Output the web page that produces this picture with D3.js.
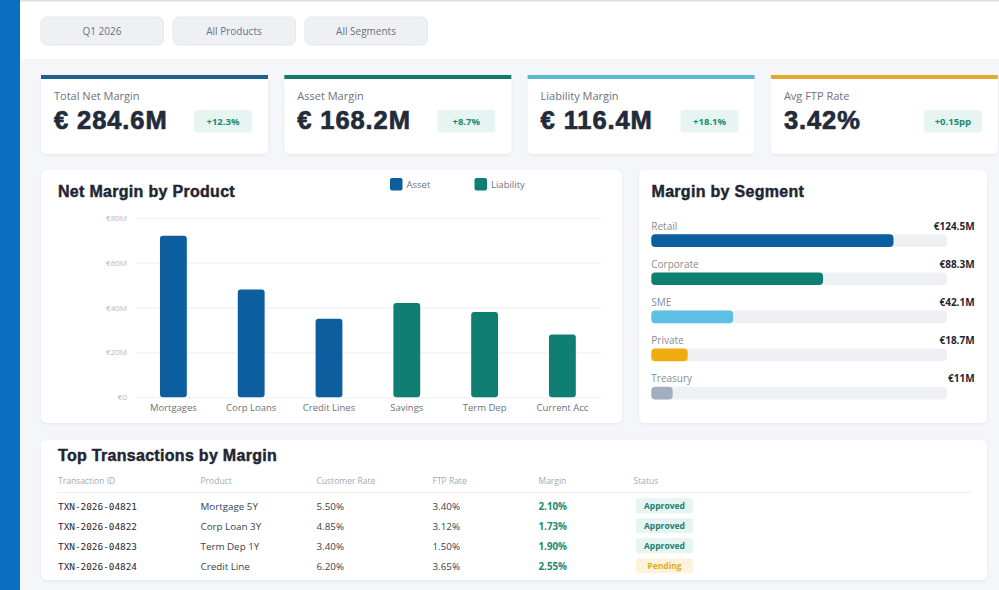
<!DOCTYPE html>
<html>
    <head>
        <meta charset="utf-8">
        <title>FTP Net Margin Dashboard</title>
        <script src="https://cdn.jsdelivr.net/npm/d3@7/dist/d3.min.js"></script>
        <style>
            body { margin: 0; background: #f4f6f9; }
            svg { display: block; }
        </style>
    </head>
    <body>
        <script type="text/javascript">

            // Filters on top
            var filters = ["Q1 2026", "All Products", "All Segments"];

            // KPI cards
            var kpiLabels = ["Total Net Margin", "Asset Margin", "Liability Margin", "Avg FTP Rate"];
            var kpiValues = ["€ 284.6M", "€ 168.2M", "€ 116.4M", "3.42%"];
            var kpiDeltas = ["+12.3%", "+8.7%", "+18.1%", "+0.15pp"];
            var kpiColors = ["#1c5f91", "#16796d", "#5eb9d0", "#e2aa2e"];

            // Net margin by product (EUR millions)
            var products = ["Mortgages", "Corp Loans", "Credit Lines", "Savings", "Term Dep", "Current Acc"];
            var productValues = [72, 48, 35, 42, 38, 28];
            var productTypes = ["Asset", "Asset", "Asset", "Liability", "Liability", "Liability"];
            var yTicks = [0, 20, 40, 60, 80];

            // Margin by segment (EUR millions)
            var segments = ["Retail", "Corporate", "SME", "Private", "Treasury"];
            var segmentValues = [124.5, 88.3, 42.1, 18.7, 11];
            var segmentLabels = ["€124.5M", "€88.3M", "€42.1M", "€18.7M", "€11M"];
            var segmentColors = ["#0c5e9f", "#0e7f72", "#5dbfe4", "#f0ab10", "#a3afc0"];

            // Transactions table
            var columns = ["Transaction ID", "Product", "Customer Rate", "FTP Rate", "Margin", "Status"];
            var txnIds = ["TXN-2026-04821", "TXN-2026-04822", "TXN-2026-04823", "TXN-2026-04824"];
            var txnProducts = ["Mortgage 5Y", "Corp Loan 3Y", "Term Dep 1Y", "Credit Line"];
            var txnCustomerRates = ["5.50%", "4.85%", "3.40%", "6.20%"];
            var txnFtpRates = ["3.40%", "3.12%", "1.50%", "3.65%"];
            var txnMargins = ["2.10%", "1.73%", "1.90%", "2.55%"];
            var txnStatus = ["Approved", "Approved", "Approved", "Pending"];

            var assetColor = "#0c5e9f";
            var liabilityColor = "#0e7f72";
            var font = "'Open Sans', sans-serif";
            var heavy = "'Liberation Sans', Arial, sans-serif";

            var svg = d3.select("body")
                        .append("svg")
                        .attr("width", 999)
                        .attr("height", 590);

            // Soft shadow for the cards
            var shadow = svg.append("defs").append("filter")
                            .attr("id", "shadow")
                            .attr("x", "-5%").attr("y", "-5%")
                            .attr("width", "110%").attr("height", "115%");
            shadow.append("feDropShadow")
                  .attr("dx", 0).attr("dy", 1)
                  .attr("stdDeviation", 1.5)
                  .attr("flood-color", "#000")
                  .attr("flood-opacity", 0.07);

            // Page background, top bar and sidebar
            svg.append("rect").attr("width", 999).attr("height", 590).attr("fill", "#f4f6f9");
            svg.append("rect").attr("width", 999).attr("height", 59).attr("fill", "#ffffff");
            svg.append("rect").attr("width", 999).attr("height", 1.5).attr("fill", "#dcdfe4");
            svg.append("rect").attr("width", 20).attr("height", 590).attr("fill", "#0a6fc1");

            // Filter buttons
            var btn = svg.selectAll(".filter")
                         .data(filters)
                         .enter()
                         .append("g")
                         .attr("class", "filter")
                         .attr("transform", function(d, i) { return "translate(" + (41 + i * 132) + ",17)"; });
            btn.append("rect")
               .attr("width", 122.5).attr("height", 28).attr("rx", 6)
               .attr("fill", "#eef0f4")
               .attr("stroke", "#e4e7ec");
            btn.append("text")
               .attr("x", 61).attr("y", 18)
               .attr("text-anchor", "middle")
               .attr("font-family", font).attr("font-size", 10)
               .attr("fill", "#6b7280")
               .text(function(d) { return d; });

            // KPI cards
            var card = svg.selectAll(".kpi")
                          .data(kpiLabels)
                          .enter()
                          .append("g")
                          .attr("class", "kpi")
                          .attr("transform", function(d, i) { return "translate(" + (41 + i * 243.3) + ",75)"; });
            card.append("rect")
                .attr("width", 227).attr("height", 79).attr("rx", 5)
                .attr("fill", "#ffffff")
                .attr("filter", "url(#shadow)");
            card.append("rect")
                .attr("width", 227).attr("height", 4)
                .attr("fill", function(d, i) { return kpiColors[i]; });
            card.append("text")
                .attr("x", 13).attr("y", 24.5)
                .attr("font-family", font).attr("font-size", 11)
                .attr("fill", "#6b7280")
                .text(function(d) { return d; });
            card.append("text")
                .attr("x", 13).attr("y", 54)
                .attr("font-family", heavy).attr("font-size", 25.5).attr("font-weight", "bold")
                .attr("letter-spacing", 0.9)
                .attr("fill", "#232b3a")
                .attr("stroke", "#232b3a").attr("stroke-width", 0.7)
                .text(function(d, i) { return kpiValues[i]; });
            card.append("rect")
                .attr("x", 153).attr("y", 35).attr("width", 58).attr("height", 22.5).attr("rx", 3)
                .attr("fill", "#e6f5f1");
            card.append("text")
                .attr("x", 182).attr("y", 49.5)
                .attr("text-anchor", "middle")
                .attr("font-family", font).attr("font-size", 9.5).attr("font-weight", "bold")
                .attr("fill", "#1a8a73")
                .text(function(d, i) { return kpiDeltas[i]; });

            // Panels
            svg.append("rect").attr("x", 41).attr("y", 170).attr("width", 581).attr("height", 253)
               .attr("rx", 6).attr("fill", "#fff").attr("filter", "url(#shadow)");
            svg.append("rect").attr("x", 639).attr("y", 170).attr("width", 348).attr("height", 253)
               .attr("rx", 6).attr("fill", "#fff").attr("filter", "url(#shadow)");
            svg.append("rect").attr("x", 41).attr("y", 440).attr("width", 946).attr("height", 140)
               .attr("rx", 6).attr("fill", "#fff").attr("filter", "url(#shadow)");

            function title(x, y, t) {
                svg.append("text")
                   .attr("x", x).attr("y", y)
                   .attr("font-family", heavy).attr("font-size", 16).attr("font-weight", "bold")
                   .attr("fill", "#1f2633")
                   .attr("stroke", "#1f2633").attr("stroke-width", 0.45)
                   .attr("letter-spacing", 0.3)
                   .text(t);
            }

            // ---- Net Margin by Product ----
            title(58, 196.5, "Net Margin by Product");

            var legend = svg.selectAll(".legend")
                            .data([["Asset", assetColor], ["Liability", liabilityColor]])
                            .enter()
                            .append("g")
                            .attr("class", "legend")
                            .attr("transform", function(d, i) { return "translate(" + (390 + i * 84.5) + ",178)"; });
            legend.append("rect")
                  .attr("width", 12.5).attr("height", 12.5).attr("rx", 2)
                  .attr("fill", function(d) { return d[1]; });
            legend.append("text")
                  .attr("x", 16.5).attr("y", 10)
                  .attr("font-family", font).attr("font-size", 9.5)
                  .attr("fill", "#6b7280")
                  .text(function(d) { return d[0]; });

            var xScale = d3.scaleBand()
                           .domain(products)
                           .range([134.5, 601.3])
                           .paddingInner(0.655)
                           .paddingOuter(0.3275);

            var yScale = d3.scaleLinear()
                           .domain([0, 80])
                           .range([397.3, 217.7]);

            var yAxis = svg.append("g")
                           .attr("transform", "translate(136,0)")
                           .call(d3.axisLeft(yScale)
                                   .tickValues(yTicks)
                                   .tickSize(-465)
                                   .tickPadding(9)
                                   .tickFormat(function(d) { return d === 0 ? "€0" : "€" + d + "M"; }));
            yAxis.select(".domain").remove();
            yAxis.selectAll("line").attr("stroke", "#eceef1");
            yAxis.selectAll("text")
                 .attr("font-family", font).attr("font-size", 8)
                 .attr("fill", "#b3b9c2");

            svg.selectAll(".bar")
               .data(productValues)
               .enter()
               .append("rect")
               .attr("class", "bar")
               .attr("x", function(d, i) { return xScale(products[i]); })
               .attr("y", function(d) { return yScale(d); })
               .attr("width", xScale.bandwidth())
               .attr("height", function(d) { return yScale(0) - yScale(d); })
               .attr("rx", 3)
               .attr("fill", function(d, i) { return productTypes[i] === "Asset" ? assetColor : liabilityColor; });

            var xAxis = svg.append("g")
                           .attr("transform", "translate(0,397.3)")
                           .call(d3.axisBottom(xScale).tickSize(0).tickPadding(7));
            xAxis.select(".domain").remove();
            xAxis.selectAll("text")
                 .attr("font-family", font).attr("font-size", 9.5)
                 .attr("fill", "#6b7280");

            // ---- Margin by Segment ----
            title(651.5, 196.5, "Margin by Segment");

            var segX = d3.scaleLinear()
                         .domain([0, 152])
                         .range([0, 295.7]);

            var seg = svg.selectAll(".seg")
                         .data(segments)
                         .enter()
                         .append("g")
                         .attr("class", "seg")
                         .attr("transform", function(d, i) { return "translate(651.3," + (226 + i * 38.1) + ")"; });
            seg.append("text")
               .attr("y", 3.5)
               .attr("font-family", font).attr("font-size", 10)
               .attr("fill", "#858c96")
               .text(function(d) { return d; });
            seg.append("text")
               .attr("x", 323.3).attr("y", 3.5)
               .attr("text-anchor", "end")
               .attr("font-family", font).attr("font-size", 10).attr("font-weight", "bold")
               .attr("fill", "#1f2633")
               .text(function(d, i) { return segmentLabels[i]; });
            seg.append("rect")
               .attr("y", 8.3).attr("width", segX(152)).attr("height", 12.7).attr("rx", 4)
               .attr("fill", "#eef0f4");
            seg.append("rect")
               .attr("y", 8.3)
               .attr("width", function(d, i) { return segX(segmentValues[i]); })
               .attr("height", 12.7).attr("rx", 4)
               .attr("fill", function(d, i) { return segmentColors[i]; });

            // ---- Top Transactions table ----
            title(58, 461, "Top Transactions by Margin");

            var colX = [58, 200.5, 316.5, 432.5, 538.5, 633.5];

            svg.selectAll(".colhead")
               .data(columns)
               .enter()
               .append("text")
               .attr("class", "colhead")
               .attr("x", function(d, i) { return colX[i]; })
               .attr("y", 484)
               .attr("font-family", font).attr("font-size", 8.5)
               .attr("fill", "#a3aab5")
               .text(function(d) { return d; });

            svg.append("line")
               .attr("x1", 58).attr("x2", 972)
               .attr("y1", 492.5).attr("y2", 492.5)
               .attr("stroke", "#eceef1").attr("stroke-width", 1.2);

            var row = svg.selectAll(".row")
                         .data(txnIds)
                         .enter()
                         .append("g")
                         .attr("class", "row")
                         .attr("transform", function(d, i) { return "translate(0," + (509.5 + i * 20) + ")"; });
            row.append("text")
               .attr("x", colX[0])
               .attr("font-family", "'DejaVu Sans Mono', monospace").attr("font-size", 9.4)
               .attr("fill", "#1f2633")
               .text(function(d) { return d; });
            [txnProducts, txnCustomerRates, txnFtpRates].forEach(function(col, c) {
                row.append("text")
                   .attr("x", colX[c + 1])
                   .attr("font-family", font).attr("font-size", 9.8)
                   .attr("fill", "#374151")
                   .text(function(d, i) { return col[i]; });
            });
            row.append("text")
               .attr("x", colX[4])
               .attr("font-family", font).attr("font-size", 9.8).attr("font-weight", "bold")
               .attr("fill", "#1a8a73")
               .text(function(d, i) { return txnMargins[i]; });
            row.append("rect")
               .attr("x", 635.7).attr("y", -11.2).attr("width", 57.6).attr("height", 15).attr("rx", 3)
               .attr("fill", function(d, i) { return txnStatus[i] === "Pending" ? "#fdf3dc" : "#e6f5f1"; });
            row.append("text")
               .attr("x", 664.5).attr("y", -0.7)
               .attr("text-anchor", "middle")
               .attr("font-family", font).attr("font-size", 8.5).attr("font-weight", "bold")
               .attr("fill", function(d, i) { return txnStatus[i] === "Pending" ? "#e3ad1a" : "#1a7f6e"; })
               .text(function(d, i) { return txnStatus[i]; });

        </script>
    </body>
</html>
